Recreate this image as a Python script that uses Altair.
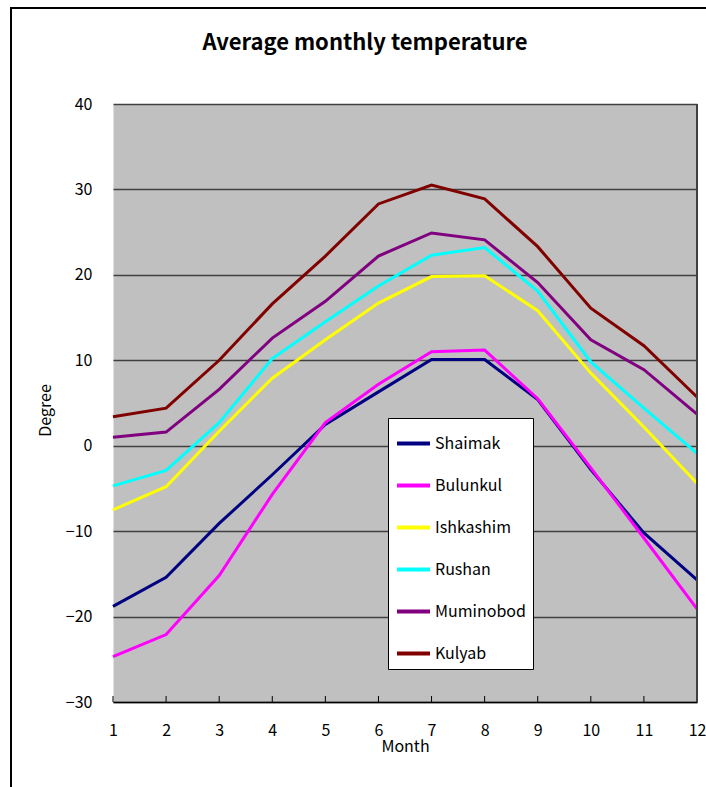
import altair as alt
import pandas as pd

months = [1, 2, 3, 4, 5, 6, 7, 8, 9, 10, 11, 12]
stations = ["Shaimak", "Bulunkul", "Ishkashim", "Rushan", "Muminobod", "Kulyab"]
colors = ["#000080", "#FF00FF", "#FFFF00", "#00FFFF", "#800080", "#800000"]

shaimak = [-18.8, -15.4, -9.1, -3.4, 2.5, 6.3, 10.1, 10.1, 5.4, -2.8, -10.2, -15.7]
bulunkul = [-24.7, -22.1, -15.2, -5.7, 2.7, 7.2, 11.0, 11.2, 5.5, -2.6, -10.8, -19.1]
ishkashim = [-7.5, -4.8, 1.7, 7.9, 12.4, 16.7, 19.8, 19.9, 15.8, 8.5, 2.2, -4.4]
rushan = [-4.7, -2.9, 2.7, 10.2, 14.5, 18.7, 22.3, 23.2, 18.1, 9.8, 4.4, -0.9]
muminobod = [1.0, 1.6, 6.6, 12.6, 16.9, 22.2, 24.9, 24.1, 19.1, 12.4, 8.9, 3.7]
kulyab = [3.4, 4.4, 10.0, 16.6, 22.2, 28.3, 30.5, 28.9, 23.3, 16.1, 11.7, 5.7]

series = [shaimak, bulunkul, ishkashim, rushan, muminobod, kulyab]
rows = []
for name, vals in zip(stations, series):
    for m, v in zip(months, vals):
        rows.append({"Month": m, "Station": name, "Degree": v})
df = pd.DataFrame(rows)
ticks_df = pd.DataFrame({"Month": months})

FONT = "Noto Sans CJK JP"
W, H = 584, 598

xscale = alt.Scale(domain=[1, 12], nice=False, zero=False)

lines = alt.Chart(df).mark_line(strokeWidth=3).encode(
    x=alt.X("Month:Q", scale=xscale,
            axis=alt.Axis(values=months, format="d", ticks=False, grid=False,
                          labelFlush=False,
                          domainColor="black", domainWidth=1.5,
                          labelFontSize=16, labelPadding=20, labelColor="black",
                          titleFontSize=16, titleFontWeight="normal", titleColor="black",
                          titleY=44, titleBaseline="middle")),
    y=alt.Y("Degree:Q", scale=alt.Scale(domain=[-30, 40], nice=False),
            axis=alt.Axis(values=[-30, -20, -10, 0, 10, 20, 30, 40], ticks=False,
                          domain=False, gridColor="#404040", gridWidth=1.5,
                          labelFontSize=16, labelPadding=21, labelColor="black",
                          titleFontSize=16, titleFontWeight="normal", titleColor="black",
                          titleX=-68, titleY=306, titleAngle=270,
                          titleAlign="center", titleBaseline="middle")),
    color=alt.Color("Station:N", sort=stations,
                    scale=alt.Scale(domain=stations, range=colors),
                    legend=alt.Legend(title=None, orient="none", legendX=275, legendY=314,
                                      fillColor="white", strokeColor="black",
                                      padding=7, symbolType="stroke", symbolSize=1089,
                                      symbolStrokeWidth=4, labelFontSize=16,
                                      labelColor="black", rowPadding=15, labelOffset=3)),
)

xticks = alt.Chart(ticks_df).mark_rule(color="black", strokeWidth=1).encode(
    x=alt.X("Month:Q", scale=xscale),
    y=alt.value(H),
    y2=alt.value(H - 6),
)

right_edge = alt.Chart(ticks_df).mark_rule(color="#404040", strokeWidth=1.5).encode(
    x=alt.value(W), y=alt.value(0), y2=alt.value(H)
)
frame_left = alt.Chart(ticks_df).mark_rule(color="black", strokeWidth=2).encode(
    x=alt.value(-102), y=alt.value(-96), y2=alt.value(700)
)
frame_top = alt.Chart(ticks_df).mark_rule(color="black", strokeWidth=2).encode(
    x=alt.value(-103), x2=alt.value(700), y=alt.value(-96)
)

chart = alt.layer(lines, xticks, right_edge, frame_left, frame_top).properties(
    width=W, height=H,
    autosize=alt.AutoSizeParams(type="none"),
    padding={"left": 113, "top": 104, "right": 9, "bottom": 85},
    background="white",
    title=alt.TitleParams("Average monthly temperature", fontSize=22, fontWeight="bold",
                          font=FONT, color="black", anchor="middle", dx=-40, offset=-48),
).configure(font=FONT).configure_view(fill="#C0C0C0", stroke="transparent")

chart.save("out.html", embed_options={"renderer": "svg", "actions": False})
